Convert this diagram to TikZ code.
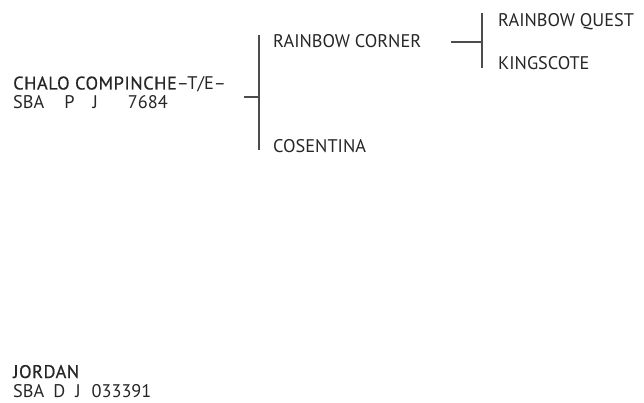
\documentclass[tikz,border=0pt]{standalone}
\usepackage{fontspec}
\setmainfont{PT Sans}
\newfontfamily\semibold[FakeBold=0.6,LetterSpace=3]{PT Sans}
\usetikzlibrary{positioning}
\begin{document}
\begin{tikzpicture}[x=1pt,y=-1pt,
  horse/.style={anchor=base west,inner sep=0pt,font=\fontsize{18.3}{19}\selectfont,text=black!85,align=left},
  bar/.style={draw=black!70,line width=1.1pt}]
\useasboundingbox (0,0) rectangle (644,403);
% subject and dam
\node[horse] (sire) at (13,108.5) {{\semibold CHALO COMPINCHE}–T/E–\\SBA\hspace{20pt}P\hspace{18pt}J\hspace{30pt}7684};
\node[horse] (dam) at (13,397) {{\semibold JORDAN}\\SBA\hspace{9pt}D\hspace{10pt}J\hspace{11pt}033391};
% parents
\node[horse] (rc) at (273,48) {RAINBOW CORNER};
\node[horse] (cos) at (273,153) {COSENTINA};
% grandparents
\node[horse] (rq) at (498,27) {RAINBOW QUEST};
\node[horse] (ks) at (498,70) {KINGSCOTE};
% connectors
\coordinate (s1) at (244,97);
\coordinate (s2) at (259,97);
\coordinate (r1) at (451,42);
\coordinate (r2) at (482,42);
\draw[bar] (s1) -- (s2);
\draw[bar] (s2 |- 0,35) -- (s2 |- 0,150);
\draw[bar] (r1) -- (r2);
\draw[bar] (r2 |- 0,13) -- (r2 |- 0,68);
\end{tikzpicture}
\end{document}
